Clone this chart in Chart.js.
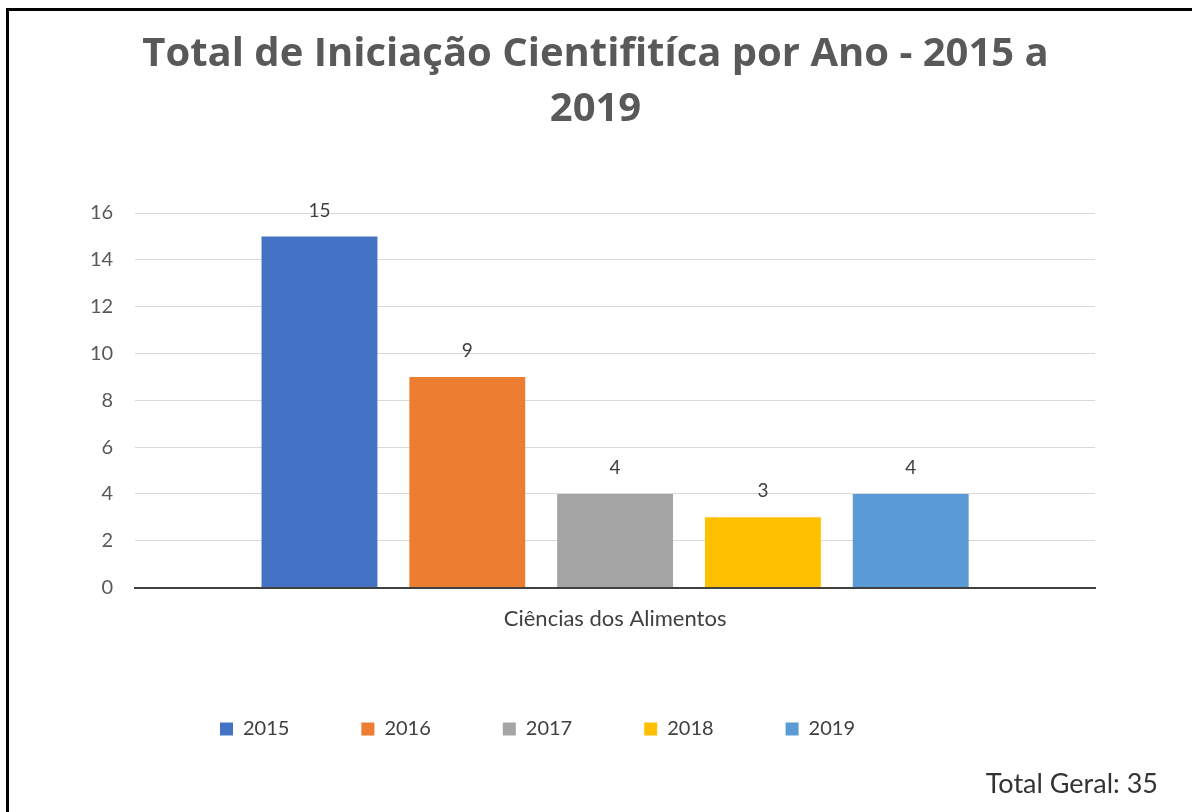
<!DOCTYPE html>
<html lang="pt">
<head>
<meta charset="utf-8">
<title>Total de Iniciação Científica por Ano</title>
<script src="https://cdn.jsdelivr.net/npm/chart.js@4.4.1/dist/chart.umd.min.js"></script>
<style>
  html, body { margin: 0; padding: 0; background: #fff; overflow: hidden; }
  #wrap { position: relative; width: 1192px; height: 812px; }
  #frame {
    position: absolute; left: 6px; top: 8px; width: 1300px; height: 900px;
    border: 3px solid #000; pointer-events: none;
  }
  #total {
    position: absolute; right: 34px; top: 766px;
    font: 27px Lato, sans-serif; color: #333;
  }
</style>
</head>
<body>
<div id="wrap">
  <canvas id="chart" width="1192" height="812"></canvas>
  <div id="frame"></div>
  <div id="total">Total Geral: 35</div>
</div>

<script>
'use strict';

// ── data ─────────────────────────────────────────────
const CATEGORIES = ['Ciências dos Alimentos'];
const YEARS      = ['2015', '2016', '2017', '2018', '2019'];
const TOTALS     = [15, 9, 4, 3, 4];
const COLORS     = ['#4472C4', '#ED7D31', '#A5A5A5', '#FFC000', '#5B9BD5'];
const Y_TICKS    = { min: 0, max: 16, step: 2 };

const TITLE = ['Total de Iniciação Cientifitíca por Ano - 2015 a', '2019'];

// value labels over each bar
const valueLabels = {
  id: 'valueLabels',
  afterDatasetsDraw(chart) {
    const ctx = chart.ctx;
    ctx.save();
    ctx.font = '19px Lato, sans-serif';
    ctx.fillStyle = '#404040';
    ctx.textAlign = 'center';
    ctx.textBaseline = 'middle';
    chart.data.datasets.forEach((ds, i) => {
      chart.getDatasetMeta(i).data.forEach((bar, j) => {
        ctx.fillText(String(ds.data[j]), bar.x, bar.y - 26);
      });
    });
    ctx.restore();
  },
};

// Excel centres the title on the whole frame and puts the legend
// a little left of centre, so nudge both boxes after layout
const boxNudge = {
  id: 'boxNudge',
  afterLayout(chart) {
    const lg = chart.legend;
    if (lg) {
      lg.left   -= 44;
      lg.right  -= 44;
      lg.top    -= 3;
      lg.bottom -= 3;
    }
    const tb = chart.titleBlock;
    if (tb) {
      tb.left  += 14;
      tb.right += 14;
    }
  },
};

new Chart(document.getElementById('chart'), {
  type: 'bar',
  data: {
    labels  : CATEGORIES,
    datasets: YEARS.map((y, i) => ({
      label          : y,
      data           : [TOTALS[i]],
      backgroundColor: COLORS[i],
      borderWidth    : 0,
    })),
  },
  options: {
    responsive : false,
    animation  : false,
    categoryPercentage: 0.77,
    barPercentage     : 0.784,
    layout: { padding: { left: 68, right: 97, top: 0, bottom: 60 } },
    plugins: {
      title: {
        display : true,
        text    : TITLE,
        color   : '#595959',
        font    : { family: "'Open Sans', sans-serif", size: 40, weight: 'bold', lineHeight: 1.375 },
        padding : { top: 27, bottom: 76 },
      },
      legend: {
        position: 'bottom',
        labels  : {
          boxWidth : 13,
          boxHeight: 13,
          padding  : 72,
          color    : '#404040',
          font     : { family: 'Lato, sans-serif', size: 20 },
        },
      },
      tooltip: { enabled: false },
    },
    scales: {
      x: {
        grid  : { display: false, drawTicks: false },
        border: { color: '#404040', width: 2 },
        ticks : { color: '#404040', padding: 18, font: { family: 'Lato, sans-serif', size: 22 } },
      },
      y: {
        min   : Y_TICKS.min,
        max   : Y_TICKS.max,
        border: { display: false },
        grid  : { color: '#d9d9d9', drawTicks: false },
        ticks : {
          stepSize: Y_TICKS.step,
          padding : 22,
          color   : '#595959',
          font    : { family: 'Lato, sans-serif', size: 20 },
        },
      },
    },
  },
  plugins: [valueLabels, boxNudge],
});
</script>
</body>
</html>
